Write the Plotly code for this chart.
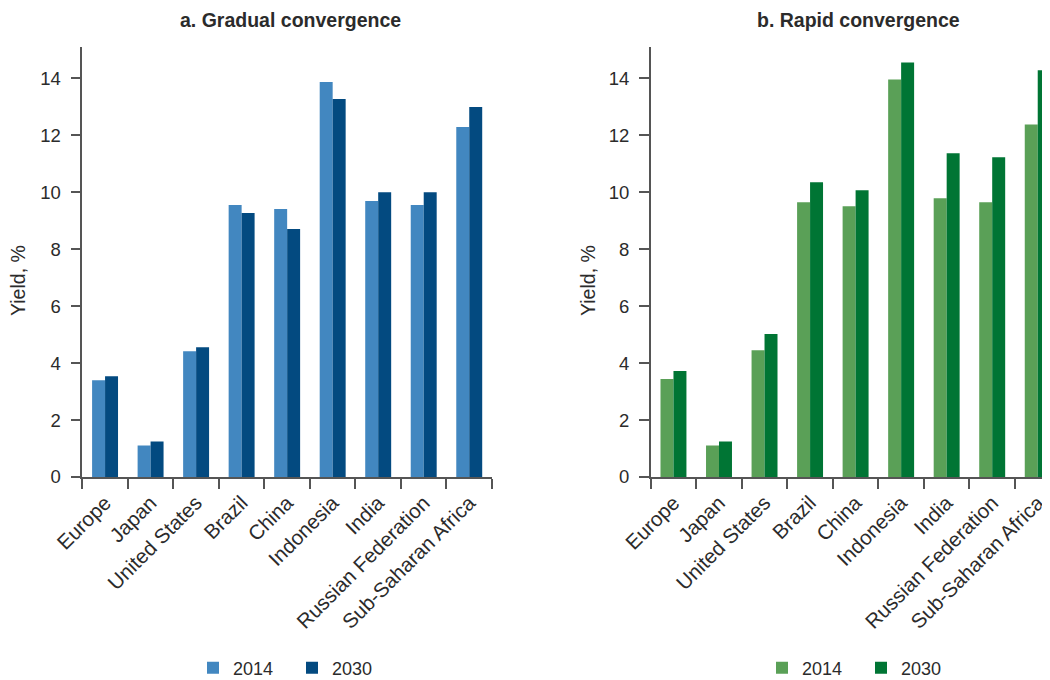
import plotly.graph_objects as go

categories = ["Europe", "Japan", "United States", "Brazil", "China", "Indonesia",
              "India", "Russian Federation", "Sub-Saharan Africa"]
years = ["2014", "2030"]
gradual_2014 = [3.40, 1.11, 4.42, 9.55, 9.41, 13.87, 9.69, 9.55, 12.29]
gradual_2030 = [3.54, 1.25, 4.56, 9.27, 8.71, 13.27, 10.0, 10.0, 12.99]
rapid_2014 = [3.44, 1.11, 4.45, 9.65, 9.51, 13.96, 9.79, 9.65, 12.38]
rapid_2030 = [3.72, 1.25, 5.02, 10.35, 10.07, 14.56, 11.37, 11.23, 14.28]
titles = ["a. Gradual convergence", "b. Rapid convergence"]
y_title = "Yield, %"

blue_light, blue_dark = "#4287C0", "#034A80"
green_light, green_dark = "#5AA057", "#007534"

FONT = "Liberation Sans, Arial, sans-serif"
TXT = "#2b2b2b"
AX = "#555555"

fig = go.Figure()
fig.add_trace(go.Bar(x=categories, y=gradual_2014, name=years[0], marker_color=blue_light,
                     marker_line_width=0, xaxis="x", yaxis="y", legend="legend"))
fig.add_trace(go.Bar(x=categories, y=gradual_2030, name=years[1], marker_color=blue_dark,
                     marker_line_width=0, xaxis="x", yaxis="y", legend="legend"))
fig.add_trace(go.Bar(x=categories, y=rapid_2014, name=years[0], marker_color=green_light,
                     marker_line_width=0, xaxis="x2", yaxis="y2", legend="legend2"))
fig.add_trace(go.Bar(x=categories, y=rapid_2030, name=years[1], marker_color=green_dark,
                     marker_line_width=0, xaxis="x2", yaxis="y2", legend="legend2"))

# the page body has an 8px margin; the right panel runs past the window edge as in the reference
OFF = 8
W, H = 1060, 690


def px(x):
    return (x - OFF) / W


def py(y):
    return (H - (y - OFF)) / H


ydom = [py(477), py(47)]

xcommon = dict(type="category", showline=True, linecolor=AX, linewidth=1.5,
               ticks="outside", tickson="boundaries", ticklen=10, tickcolor=AX,
               tickwidth=1.5, tickangle=-45, automargin=False, ticklabelstandoff=4,
               tickfont=dict(family=FONT, size=20.5, color=TXT), showgrid=False, zeroline=False,
               range=[-0.5, 8.5])
ycommon = dict(range=[0, 15.1], dtick=2, showline=True, linecolor=AX, linewidth=1.5,
               ticks="outside", ticklen=10, tickcolor=AX, tickwidth=1.5,
               automargin=False, showgrid=False, zeroline=False, ticklabelstandoff=6,
               tickfont=dict(family=FONT, size=18.5, color=TXT))

legend_common = dict(orientation="h", xanchor="left", yanchor="middle", y=py(668),
                     font=dict(family=FONT, size=18, color=TXT), entrywidth=54,
                     bgcolor="rgba(0,0,0,0)")

title_font = dict(family=FONT, size=19.5, color=TXT)
ytitle_font = dict(family=FONT, size=19.5, color=TXT)

fig.update_layout(
    width=W, height=H,
    margin=dict(l=0, r=0, t=0, b=0),
    paper_bgcolor="white", plot_bgcolor="white",
    barmode="group", bargap=0.43, bargroupgap=0,
    font=dict(family=FONT, color=TXT),
    xaxis=dict(domain=[px(82.3), px(492)], anchor="y", **xcommon),
    yaxis=dict(domain=ydom, anchor="x", **ycommon),
    xaxis2=dict(domain=[px(650.7), px(1060.5)], anchor="y2", **xcommon),
    yaxis2=dict(domain=ydom, anchor="x2", **ycommon),
    legend=dict(x=px(209 - 16), **legend_common),
    legend2=dict(x=px(778 - 16), **legend_common),
    annotations=[
        dict(text="<b>" + titles[0] + "</b>", x=px(290), y=py(20), xref="paper", yref="paper",
             xanchor="center", yanchor="middle", showarrow=False, font=title_font),
        dict(text="<b>" + titles[1] + "</b>", x=px(858), y=py(20), xref="paper", yref="paper",
             xanchor="center", yanchor="middle", showarrow=False, font=title_font),
        dict(text=y_title, x=px(18), y=py(281), xref="paper", yref="paper", textangle=-90,
             xanchor="center", yanchor="middle", showarrow=False, font=ytitle_font),
        dict(text=y_title, x=px(588), y=py(281), xref="paper", yref="paper", textangle=-90,
             xanchor="center", yanchor="middle", showarrow=False, font=ytitle_font),
    ],
)

fig.write_html("out.html")
